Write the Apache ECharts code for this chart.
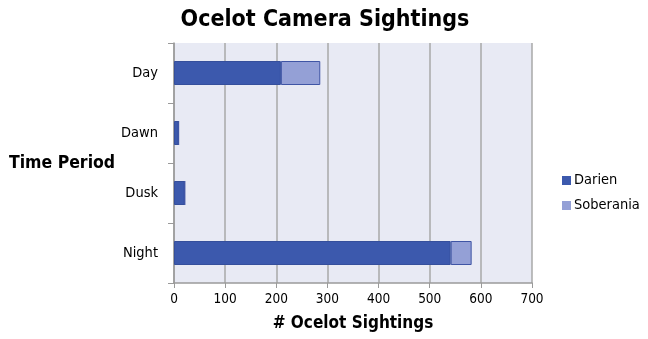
<!DOCTYPE html>
<html><head><meta charset="utf-8">
<script src="https://cdn.jsdelivr.net/npm/echarts@6/dist/echarts.min.js"></script>
<style>html,body{margin:0;padding:0;background:#fff}#c{width:648px;height:339px}</style>
</head><body><div id="c"></div>
<script>
const categories = ["Day", "Dawn", "Dusk", "Night"];
const darien = [209, 9, 21, 541];
const soberania = [77, 0, 0, 41];
const xTicks = [0, 100, 200, 300, 400, 500, 600, 700];

const font = "DejaVu Sans Condensed";
const chart = echarts.init(document.getElementById('c'));
chart.setOption({
  animation: false,
  backgroundColor: '#fff',
  title: {
    text: 'Ocelot Camera Sightings', left: 320, top: 4, textAlign: 'center',
    textStyle: {fontFamily: font, fontWeight: 'bold', fontSize: 23, color: '#000'}
  },
  legend: {
    orient: 'vertical', left: 557, top: 168, itemWidth: 9, itemHeight: 9, itemGap: 10,
    icon: 'rect', itemStyle: {borderWidth: 0},
    textStyle: {fontFamily: font, fontSize: 14.5, color: '#000', padding: [0,0,0,-2]},
    data: ['Darien', 'Soberania']
  },
  grid: {left: 174, right: 116, top: 43, bottom: 56, show: true, backgroundColor: '#e8eaf4', borderWidth: 0,
    containLabel: false, outerBoundsMode: 'none'},
  xAxis: {
    type: 'value', min: 0, max: 700, interval: 100,
    name: '# Ocelot Sightings', nameLocation: 'middle', nameGap: 32,
    nameTextStyle: {fontFamily: font, fontWeight: 'bold', fontSize: 17, color: '#000'},
    axisLine: {show: true, lineStyle: {color: '#9a9a9a', width: 1.5}},
    axisTick: {show: true, length: 5, lineStyle: {color: '#9a9a9a'}},
    axisLabel: {fontFamily: font, fontSize: 13.5, color: '#000', margin: 9,
      formatter: v => xTicks.includes(v) ? String(v) : ''},
    splitLine: {show: true, lineStyle: {color: '#a8a8a8', width: 1.5}}
  },
  yAxis: {
    type: 'category', data: categories, inverse: true,
    name: 'Time Period', nameLocation: 'middle', nameRotate: 0, nameGap: 57,
    nameTextStyle: {fontFamily: font, fontWeight: 'bold', fontSize: 17.5, color: '#000'},
    axisLine: {show: true, lineStyle: {color: '#9a9a9a', width: 1.5}},
    axisTick: {show: true, length: 6, lineStyle: {color: '#9a9a9a'}},
    axisLabel: {fontFamily: font, fontSize: 14.5, color: '#000', margin: 16},
    splitLine: {show: false}
  },
  series: [
    {name: 'Darien', type: 'bar', stack: 's', data: darien, barWidth: '40%',
     itemStyle: {color: '#3c59ad', borderColor: '#354f9c', borderWidth: 1}},
    {name: 'Soberania', type: 'bar', stack: 's', data: soberania, barWidth: '40%',
     itemStyle: {color: '#94a0d6', borderColor: '#3f55a5', borderWidth: 1}}
  ]
});
</script></body></html>
